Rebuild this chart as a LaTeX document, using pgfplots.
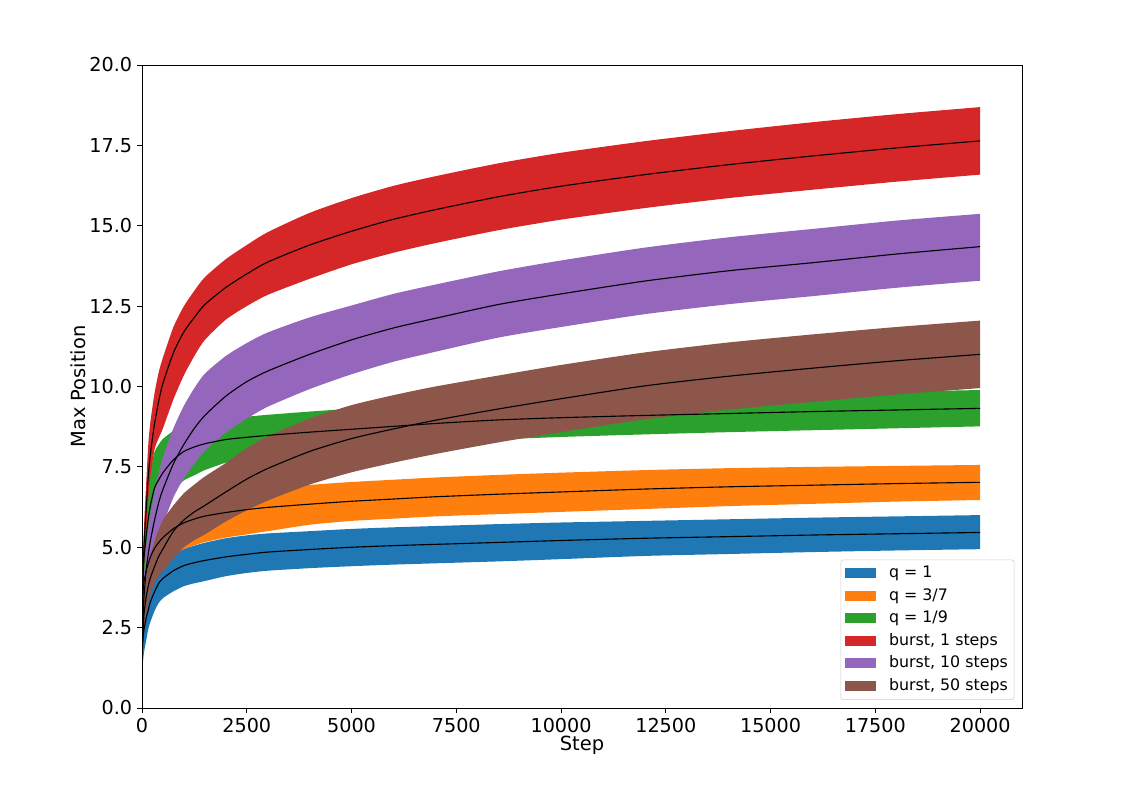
\documentclass[border=0pt]{standalone}
\usepackage{fontspec}
\setmainfont{DejaVu Sans}
\usepackage{pgfplots}
\pgfplotsset{compat=1.18}
\usepackage{pgfplotstable}
\usepgfplotslibrary{fillbetween}
\definecolor{c0}{HTML}{1F77B4}
\definecolor{c1}{HTML}{FF7F0E}
\definecolor{c2}{HTML}{2CA02C}
\definecolor{c3}{HTML}{D62728}
\definecolor{c4}{HTML}{9467BD}
\definecolor{c5}{HTML}{8C564B}

\pgfplotstableread{
s     bm   bl   bh   om   ol   oh   gm   gl   gh   rm    rl    rh    pm    pl    ph    nm    nl    nh
0     1.00 1.00 1.00 1.00 1.00 1.00 1.00 1.00 1.00 1.00  1.00  1.00  1.00  1.00  1.00  1.00  1.00  1.00
10    1.90 1.10 2.40 3.00 2.40 3.40 3.20 2.70 3.70 3.00  2.60  3.40  2.00  1.60  2.35  1.80  1.50  2.10
25    2.20 1.45 2.75 3.60 2.95 4.05 4.10 3.40 4.80 4.10  3.60  4.60  2.80  2.20  3.30  2.35  1.95  2.80
50    2.45 1.75 3.00 3.95 3.25 4.45 4.70 3.85 5.55 5.10  4.50  5.70  3.50  2.80  4.10  2.95  2.45  3.50
100   2.80 2.10 3.35 4.25 3.50 4.80 5.35 4.35 6.35 6.20  5.50  7.00  4.30  3.45  5.00  3.45  2.95  4.05
150   3.05 2.45 3.60 4.50 3.72 5.08 5.90 4.85 6.95 7.20  6.50  8.20  4.80  3.90  5.60  3.80  3.25  4.45
200   3.30 2.68 3.85 4.70 3.90 5.30 6.30 5.20 7.40 7.90  7.20  8.90  5.20  4.25  6.00  4.05  3.55  4.75
300   3.62 3.02 4.18 4.97 4.15 5.58 6.85 5.75 7.97 8.85  8.05  9.80  5.85  4.80  6.70  4.40  3.90  5.20
400   3.88 3.27 4.42 5.15 4.33 5.76 7.10 6.02 8.20 9.55  8.40  10.45 6.40  5.30  7.30  4.72  4.10  5.55
500   4.03 3.42 4.58 5.30 4.48 5.90 7.32 6.27 8.37 10.10 8.70  10.90 6.80  5.70  7.80  4.95  4.25  5.85
750   4.27 3.63 4.82 5.58 4.76 6.18 7.72 6.77 8.62 11.05 9.60  11.85 7.60  6.55  8.70  5.50  4.65  6.30
1000  4.43 3.79 4.95 5.76 4.94 6.36 7.98 7.08 8.80 11.70 10.35 12.50 8.20  7.15  9.40  5.85  5.00  6.68
1250  4.52 3.88 5.05 5.88 5.06 6.48 8.12 7.24 8.90 12.15 10.95 12.98 8.70  7.60  9.95  6.10  5.22  6.95
1500  4.59 3.95 5.14 5.97 5.16 6.57 8.22 7.40 8.95 12.55 11.45 13.40 9.10  8.00  10.40 6.30  5.40  7.20
2000  4.70 4.10 5.28 6.08 5.30 6.68 8.35 7.63 9.00 13.08 12.08 13.96 9.70  8.57  10.95 6.72  5.80  7.62
2500  4.78 4.20 5.37 6.17 5.40 6.77 8.42 7.77 9.06 13.50 12.50 14.40 10.15 9.00  11.35 7.12  6.15  8.08
3000  4.85 4.27 5.43 6.24 5.50 6.84 8.48 7.83 9.12 13.87 12.85 14.80 10.48 9.37  11.68 7.45  6.45  8.45
4000  4.93 4.35 5.50 6.34 5.70 6.94 8.58 7.93 9.22 14.40 13.35 15.40 11.00 9.92  12.15 7.98  6.95  9.00
5000  5.00 4.41 5.57 6.43 5.82 7.03 8.67 8.03 9.31 14.83 13.80 15.86 11.45 10.38 12.52 8.38  7.33  9.42
6000  5.05 4.46 5.62 6.50 5.89 7.10 8.76 8.13 9.38 15.20 14.16 16.24 11.82 10.77 12.88 8.68  7.63  9.73
7000  5.09 4.50 5.66 6.57 5.96 7.17 8.85 8.23 9.45 15.50 14.46 16.54 12.12 11.08 13.17 8.95  7.90  10.00
8500  5.15 4.56 5.72 6.65 6.03 7.25 8.96 8.35 9.55 15.90 14.86 16.94 12.55 11.52 13.58 9.30  8.26  10.34
10000 5.21 4.63 5.77 6.72 6.10 7.32 9.03 8.43 9.62 16.23 15.19 17.27 12.88 11.85 13.92 9.62  8.58  10.67
12000 5.28 4.73 5.82 6.81 6.19 7.40 9.10 8.51 9.68 16.59 15.55 17.63 13.28 12.25 14.32 10.02 8.98  11.06
14000 5.33 4.79 5.87 6.88 6.28 7.46 9.16 8.58 9.74 16.90 15.86 17.94 13.60 12.56 14.64 10.32 9.28  11.37
16000 5.38 4.85 5.92 6.93 6.35 7.50 9.22 8.64 9.79 17.17 16.12 18.22 13.85 12.81 14.90 10.57 9.52  11.62
18000 5.42 4.90 5.96 6.98 6.42 7.53 9.27 8.70 9.84 17.42 16.37 18.47 14.12 13.07 15.16 10.80 9.75  11.85
20000 5.46 4.94 6.00 7.02 6.47 7.56 9.32 8.76 9.89 17.64 16.59 18.69 14.35 13.29 15.37 11.00 9.95  12.05
}\data

\begin{document}
\begin{tikzpicture}
\begin{axis}[
  at={(102.24pt,60.48pt)}, anchor=south west,
  scale only axis, width=633.6pt, height=462.96pt,
  xmin=0, xmax=21000, ymin=0, ymax=20,
  xtick={0,2500,5000,7500,10000,12500,15000,17500,20000},
  ytick={0,2.5,5,7.5,10,12.5,15,17.5,20},
  scaled x ticks=false,
  xticklabel style={/pgf/number format/.cd, 1000 sep={}, assume math mode=true},
  yticklabel style={/pgf/number format/.cd, fixed, fixed zerofill, precision=1, assume math mode=true},
  tick label style={font=\fontsize{13.8}{16}\selectfont, black},
  tick align=outside, major tick length=3.6pt,
  xtick pos=left, ytick pos=left,
  every tick/.style={black, line width=0.6pt},
  axis line style={black, line width=0.6pt},
  xlabel={Step}, ylabel={Max Position},
  label style={font=\fontsize{14}{17}\selectfont},
  xlabel style={at={(axis description cs:0.5,-0.0575)}, anchor=center},
  ylabel style={at={(axis description cs:-0.0726,0.5)}, anchor=center},
  legend image code/.code={\fill[#1, draw=none, sharp corners] (0pt,-3.6pt) rectangle (22.3pt,3.6pt); \node[draw=none, fill=none, inner sep=0pt, minimum size=0pt] at (30pt,0pt) {};},
  legend style={at={(1,0)}, anchor=south east, xshift=-5.5pt, yshift=5.8pt,
    draw=black!20, rounded corners=2pt, fill=white,
    font=\fontsize{11.4}{13.7}\selectfont,
    inner xsep=3pt, inner ysep=3pt, row sep=2.5pt,
    cells={anchor=west},
    nodes={inner sep=1.5pt, text height=8.3pt, text depth=2.4pt}},
  every axis plot/.append style={smooth, tension=0.4},
]
% bands
\addplot[name path=bh, draw=none, forget plot] table[x=s, y=bh]{\data};
\addplot[name path=bl, draw=none, forget plot] table[x=s, y=bl]{\data};
\addplot[fill=c0, draw=none, forget plot] fill between[of=bh and bl];
\addplot[name path=oh, draw=none, forget plot] table[x=s, y=oh]{\data};
\addplot[name path=ol, draw=none, forget plot] table[x=s, y=ol]{\data};
\addplot[fill=c1, draw=none, forget plot] fill between[of=oh and ol];
\addplot[name path=gh, draw=none, forget plot] table[x=s, y=gh]{\data};
\addplot[name path=gl, draw=none, forget plot] table[x=s, y=gl]{\data};
\addplot[fill=c2, draw=none, forget plot] fill between[of=gh and gl];
\addplot[name path=rh, draw=none, forget plot] table[x=s, y=rh]{\data};
\addplot[name path=rl, draw=none, forget plot] table[x=s, y=rl]{\data};
\addplot[fill=c3, draw=none, forget plot] fill between[of=rh and rl];
\addplot[name path=ph, draw=none, forget plot] table[x=s, y=ph]{\data};
\addplot[name path=pl, draw=none, forget plot] table[x=s, y=pl]{\data};
\addplot[fill=c4, draw=none, forget plot] fill between[of=ph and pl];
\addplot[name path=nh, draw=none, forget plot] table[x=s, y=nh]{\data};
\addplot[name path=nl, draw=none, forget plot] table[x=s, y=nl]{\data};
\addplot[fill=c5, draw=none, forget plot] fill between[of=nh and nl];
% means
\addplot[black, line width=0.8pt, forget plot] table[x=s, y=bm]{\data};
\addplot[black, line width=0.8pt, forget plot] table[x=s, y=om]{\data};
\addplot[black, line width=0.8pt, forget plot] table[x=s, y=gm]{\data};
\addplot[black, line width=0.8pt, forget plot] table[x=s, y=rm]{\data};
\addplot[black, line width=0.8pt, forget plot] table[x=s, y=pm]{\data};
\addplot[black, line width=0.8pt, forget plot] table[x=s, y=nm]{\data};
% legend
\addlegendimage{c0}
\addlegendentry{q = 1}
\addlegendimage{c1}
\addlegendentry{q = 3/7}
\addlegendimage{c2}
\addlegendentry{q = 1/9}
\addlegendimage{c3}
\addlegendentry{burst, 1 steps}
\addlegendimage{c4}
\addlegendentry{burst, 10 steps}
\addlegendimage{c5}
\addlegendentry{burst, 50 steps}
\end{axis}
\path (0,0) rectangle (817.92pt,570.24pt);
\end{tikzpicture}
\end{document}
